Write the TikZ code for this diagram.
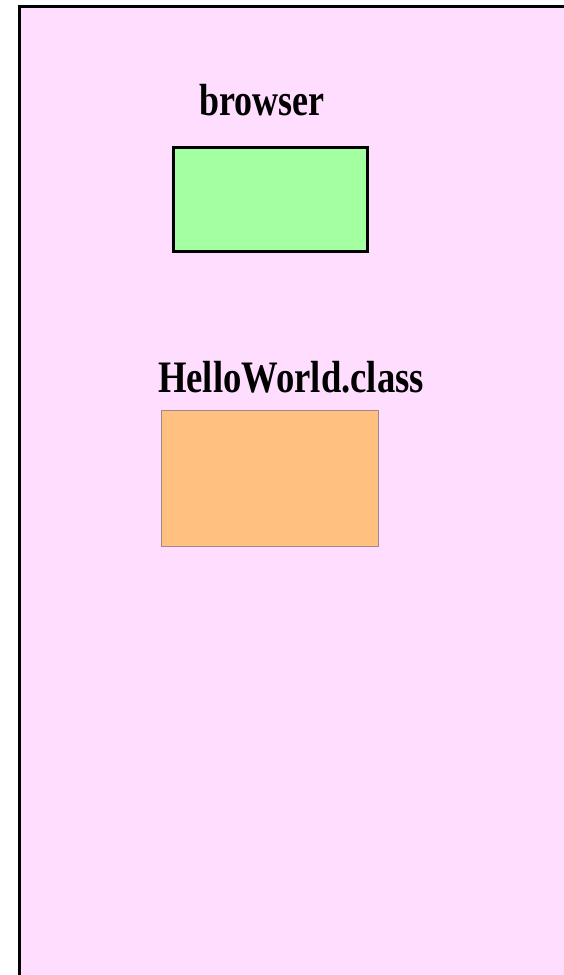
\documentclass[tikz,border=0pt]{standalone}
\usepackage{fontspec}
\setmainfont{Liberation Serif}
\definecolor{panelpink}{HTML}{FFDDFF}
\definecolor{boxgreen}{HTML}{A3FF9F}
\definecolor{boxorange}{HTML}{FFC080}
\definecolor{orangeedge}{HTML}{A08890}
\tikzset{
  panel/.style={draw=black, line width=3pt, fill=panelpink},
  greenbox/.style={draw=black, line width=3pt, fill=boxgreen},
  orangebox/.style={draw=orangeedge, line width=0.8pt, fill=boxorange},
  title/.style={anchor=base, inner sep=0pt, font=\fontsize{45}{50}\selectfont\bfseries},
}
\begin{document}
\begin{tikzpicture}[x=1pt, y=-1pt]
\useasboundingbox (0,0) rectangle (564,975);
\clip (0,0) rectangle (564,975);
\path[panel] (19.5,6.5) rectangle (600,1010);
\node[title] (browserlabel) at (262,115) {\scalebox{0.8}[1]{browser}};
\path[greenbox] (173.5,147.5) rectangle (367,251);
\node[title] (classlabel) at (291,392) {\scalebox{0.815}[1]{HelloWorld.class}};
\path[orangebox] (161.5,410.5) rectangle (378.5,546.5);
\end{tikzpicture}
\end{document}
